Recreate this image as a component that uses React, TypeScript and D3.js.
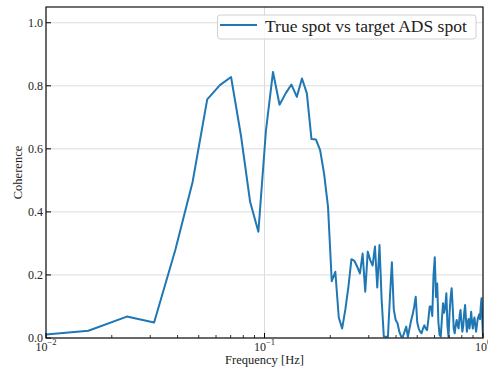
import React from "react";
import * as d3 from "d3";

// frequency grid step (Hz); point k sits at k * df
const df = 0.0078125;

// coherence, one value per frequency bin (k = 1..128)
const coherence = [
  0.005, 0.023, 0.068, 0.049, 0.279, 0.495, 0.757, 0.802, 0.828, 0.64,
  0.432, 0.337, 0.659, 0.844, 0.74, 0.776, 0.804, 0.765, 0.823, 0.776,
  0.631, 0.63, 0.596, 0.52, 0.416, 0.18, 0.21, 0.065, 0.03, 0.09,
  0.163, 0.25, 0.245, 0.226, 0.205, 0.268, 0.147, 0.274, 0.247, 0.23,
  0.29, 0.16, 0.295, 0.12, 0.005, 0.004, 0.004, 0.13, 0.24, 0.09,
  0.057, 0.047, 0.02, 0.005, 0.004, 0.02, 0.036, 0.004, 0.03, 0.055,
  0.075, 0.1, 0.131, 0.05, 0.03, 0.02, 0.015, 0.03, 0.04, 0.03,
  0.025, 0.06, 0.1, 0.1, 0.07, 0.2, 0.256, 0.13, 0.173, 0.05,
  0.01, 0.005, 0.06, 0.11, 0.08, 0.1, 0.142, 0.04, 0.004, 0.08,
  0.13, 0.158, 0.1, 0.03, 0.015, 0.04, 0.057, 0.04, 0.03, 0.07,
  0.089, 0.05, 0.02, 0.04, 0.08, 0.105, 0.06, 0.02, 0.05, 0.06,
  0.03, 0.05, 0.083, 0.05, 0.03, 0.055, 0.065, 0.04, 0.02, 0.04,
  0.06, 0.068, 0.075, 0.06, 0.1, 0.126, 0.06, 0.005,
];

const yTicks = [0, 0.2, 0.4, 0.6, 0.8, 1.0];
const xMajor = [0.01, 0.1, 1];
const xMajorExp = ["\u22122", "\u22121", "0"];
const legendLabel = "True spot vs target ADS spot";
const xLabel = "Frequency [Hz]";
const yLabel = "Coherence";

const W = 488;
const H = 372;
const m = { left: 46, right: 483, top: 7, bottom: 338 };
const font = "'Liberation Serif', 'DejaVu Serif', serif";

export default function App() {
  const x = d3.scaleLog().domain([0.01, 1]).range([m.left, m.right]);
  const y = d3.scaleLinear().domain([0, 1.05]).range([m.bottom, m.top]);

  const pts = coherence.map((v, i) => ({ f: (i + 1) * df, v }));
  const line = d3
    .line<{ f: number; v: number }>()
    .x((d) => x(d.f))
    .y((d) => y(d.v));

  const minor: number[] = [];
  [0.01, 0.1].forEach((dec) => {
    for (let j = 2; j <= 9; j++) minor.push(dec * j);
  });

  return (
    <svg
      width={W}
      height={H}
      style={{ position: "absolute", left: 0, top: 0, background: "#fff" }}
      fontFamily={font}
    >
      <defs>
        <clipPath id="plot">
          <rect x={m.left} y={m.top} width={m.right - m.left} height={m.bottom - m.top} />
        </clipPath>
      </defs>

      {/* grid */}
      {yTicks.map((t) => (
        <line key={"gy" + t} x1={m.left} x2={m.right} y1={y(t)} y2={y(t)} stroke="#dcdcdc" strokeWidth={1} />
      ))}
      {xMajor.map((t) => (
        <line key={"gx" + t} x1={x(t)} x2={x(t)} y1={m.top} y2={m.bottom} stroke="#dcdcdc" strokeWidth={1} />
      ))}

      {/* data */}
      <path
        d={line(pts) || ""}
        fill="none"
        stroke="#1f77b4"
        strokeWidth={2}
        strokeLinejoin="round"
        clipPath="url(#plot)"
      />

      {/* ticks, pointing inward */}
      {yTicks.map((t) => (
        <line key={"ty" + t} x1={m.left} x2={m.left + 5} y1={y(t)} y2={y(t)} stroke="#000" strokeWidth={1} />
      ))}
      {xMajor.map((t) => (
        <line key={"tx" + t} x1={x(t)} x2={x(t)} y1={m.bottom} y2={m.bottom - 5} stroke="#000" strokeWidth={1} />
      ))}
      {minor.map((t) => (
        <line key={"mx" + t} x1={x(t)} x2={x(t)} y1={m.bottom} y2={m.bottom - 3} stroke="#000" strokeWidth={0.8} />
      ))}

      {/* frame */}
      <rect
        x={m.left}
        y={m.top}
        width={m.right - m.left}
        height={m.bottom - m.top}
        fill="none"
        stroke="#111"
        strokeWidth={1.2}
      />

      {/* tick labels */}
      {yTicks.map((t) => (
        <text key={"ly" + t} x={m.left - 3} y={y(t)} dy="0.33em" textAnchor="end" fontSize={12} fill="#222">
          {d3.format(".1f")(t)}
        </text>
      ))}
      {xMajor.map((t, i) => (
        <text key={"lx" + t} x={x(t)} y={351} textAnchor="middle" fontSize={12} fill="#222">
          10
          <tspan fontSize={8.5} dy={-6}>
            {xMajorExp[i]}
          </tspan>
        </text>
      ))}

      {/* axis labels */}
      <text x={(m.left + m.right) / 2} y={364} textAnchor="middle" fontSize={12.5} fill="#222">
        {xLabel}
      </text>
      <text
        transform={`translate(22,${(m.top + m.bottom) / 2}) rotate(-90)`}
        textAnchor="middle"
        fontSize={12.5}
        fill="#222"
      >
        {yLabel}
      </text>

      {/* legend */}
      <rect x={217.5} y={15} width={258.5} height={24} rx={3} fill="#fff" fillOpacity={0.8} stroke="#d0d0d0" strokeWidth={1} />
      <line x1={220} x2={257} y1={25} y2={25} stroke="#1f77b4" strokeWidth={2} />
      <text x={265} y={32} fontSize={17.5} fill="#222">
        {legendLabel}
      </text>
    </svg>
  );
}
